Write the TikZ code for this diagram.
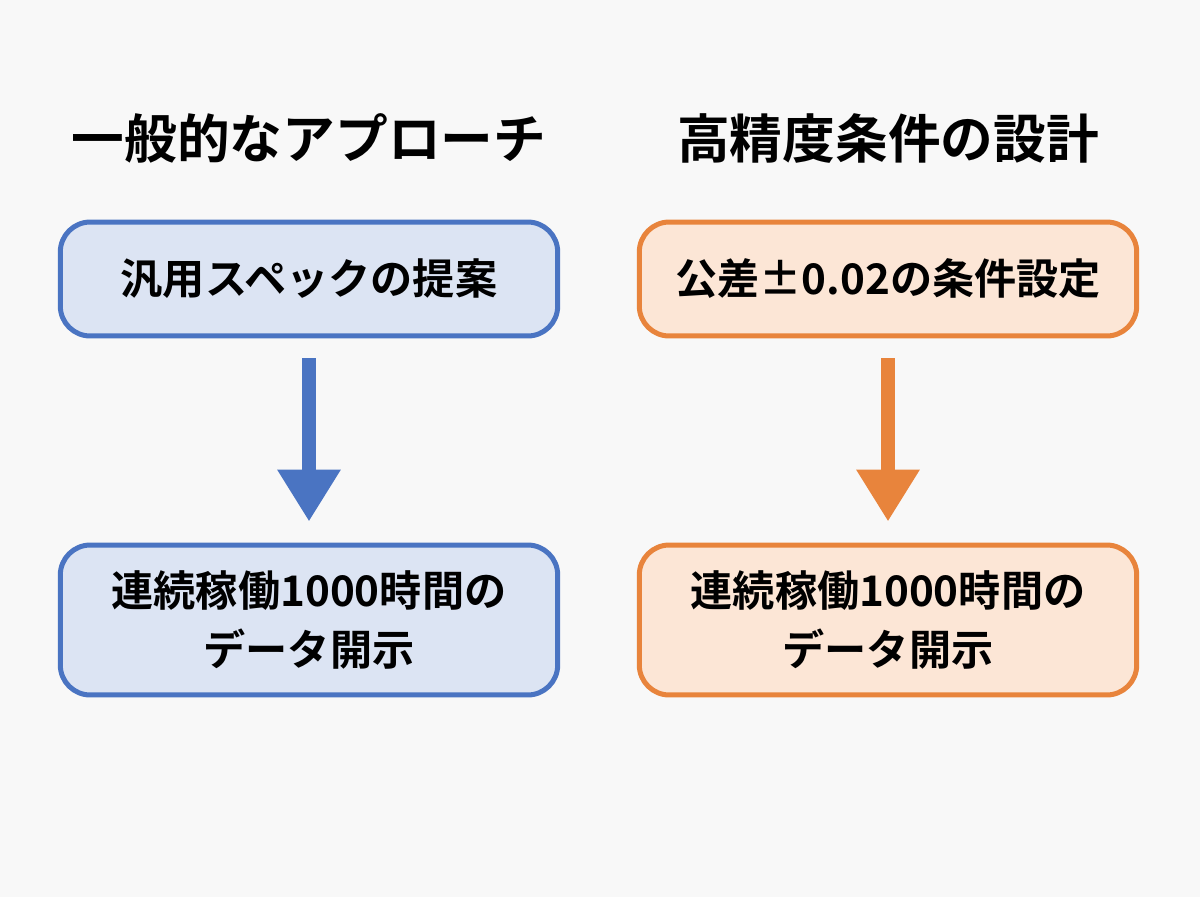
\documentclass[tikz,border=0pt]{standalone}
\usepackage{fontspec}
\setmainfont{Noto Sans CJK JP}[BoldFont={* Bold}]
\usetikzlibrary{positioning,arrows.meta,backgrounds}
\definecolor{bluel}{HTML}{4A74C2}
\definecolor{bluef}{HTML}{DCE4F3}
\definecolor{orl}{HTML}{E8843C}
\definecolor{orf}{HTML}{FCE6D6}
\definecolor{bg}{HTML}{F8F8F8}

\begin{document}
\begin{tikzpicture}[x=0.02cm, y=-0.02cm,
    background rectangle/.style={fill=bg}, show background rectangle,
    title/.style={font=\bfseries\fontsize{30}{34}\selectfont},
    box/.style={draw, line width=0.1cm, rounded corners=0.6cm, minimum width=9.95cm, align=center, font=\bfseries\fontsize{24}{34}\selectfont},
    flow/.style={line width=0.28cm, -{Triangle[width=1.2cm, length=1.04cm]}, shorten <=0.4cm, shorten >=0.42cm}]
    % Fix the canvas
    \useasboundingbox (0,0) rectangle (1200,896);

    % Column titles
    \node[title] (tl) at (309,138) {一般的なアプローチ};
    \node[title] (tr) at (888,138) {高精度条件の設計};

    % Left column
    \node[box, draw=bluel, fill=bluef, minimum height=2.28cm] (l1) at (309,279) {汎用スペックの提案};
    \node[box, draw=bluel, fill=bluef, minimum height=3.0cm] (l2) at (309,620) {連続稼働1000時間の\\データ開示};
    \draw[flow, bluel] (l1) -- (l2);

    % Right column
    \node[box, draw=orl, fill=orf, minimum height=2.28cm] (r1) at (888,279) {公差±0.02の条件設定};
    \node[box, draw=orl, fill=orf, minimum height=3.0cm] (r2) at (888,620) {連続稼働1000時間の\\データ開示};
    \draw[flow, orl] (r1) -- (r2);
\end{tikzpicture}
\end{document}
